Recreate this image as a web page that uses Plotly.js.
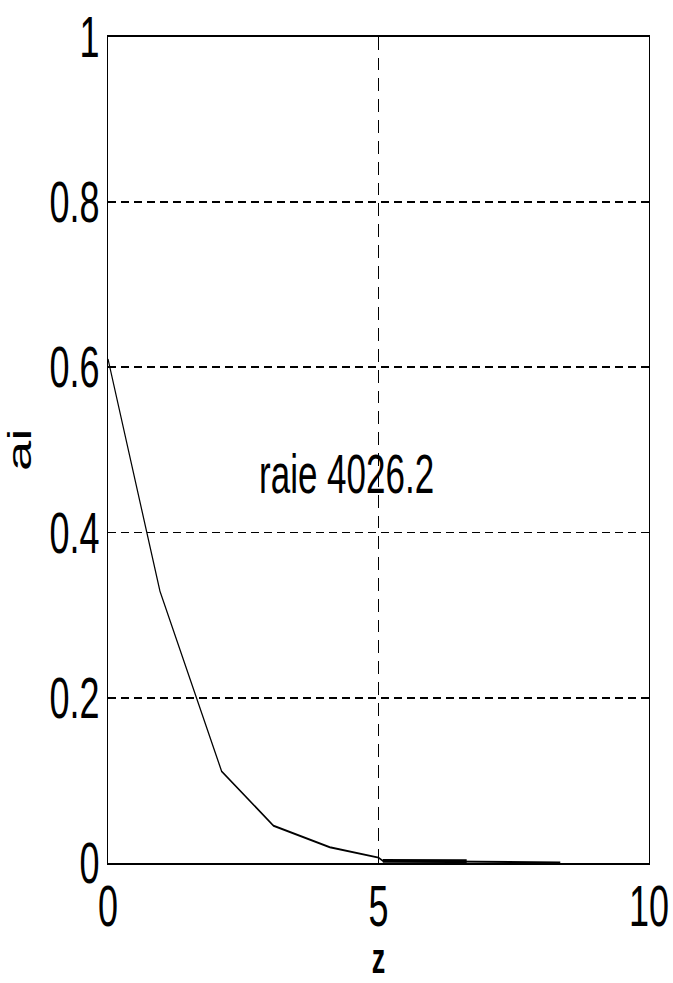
<!DOCTYPE html>
<html>
<head>
<meta charset="utf-8">
<script src="https://cdn.plot.ly/plotly-3.0.1.min.js"></script>
<style>
  html, body { margin: 0; padding: 0; background: #fff; width: 673px; height: 983px; overflow: hidden; }
  /* the figure is laid out at a shorter height, then stretched vertically */
  #fig { width: 673px; height: 614px; transform: scaleY(1.601); transform-origin: 0 0; }
</style>
</head>
<body>
<div id="fig"></div>
<script>
// depth z and line intensity ai for the 4026.2 line
const z  = [0, 0.96, 2.1, 3.06, 4.1, 5.0, 5.08, 6.63, 6.65, 8.36];
const ai = [0.61, 0.329, 0.111, 0.045, 0.019, 0.0065, 0.0025, 0.0022, 0.0008, 0.0006];

const xTicks = [0, 5, 10];
const yTicks = [0, 0.2, 0.4, 0.6, 0.8, 1];
const lineLabel = 'raie 4026.2';
const xLabel = 'z';
const yLabel = 'ai';

const font = 'Liberation Sans, Arial, sans-serif';

const curve = {
  x: z, y: ai, type: 'scatter', mode: 'lines',
  line: { color: '#000', width: 1.2 },
  hoverinfo: 'skip', showlegend: false
};
// the flat stretch just past z = 5 is drawn heavier
const flat = {
  x: z.slice(6, 8), y: ai.slice(6, 8), type: 'scatter', mode: 'lines',
  line: { color: '#000', width: 2.4 },
  hoverinfo: 'skip', showlegend: false
};

const axisCommon = {
  showline: true, linecolor: '#000', linewidth: 1.3, mirror: 'ticks',
  ticks: 'inside', ticklen: 5, tickcolor: '#000', tickwidth: 1,
  showgrid: true, gridcolor: '#000', gridwidth: 1.2, griddash: '8px,5px',
  zeroline: false, tickfont: { family: font, size: 36, color: '#000' },
  fixedrange: true
};

const layout = {
  width: 673, height: 614,
  margin: { l: 108, r: 24, t: 23, b: 75 },
  paper_bgcolor: '#fff', plot_bgcolor: '#fff',
  font: { family: font, color: '#000' },
  xaxis: Object.assign({}, axisCommon, {
    range: [0, 10], tickmode: 'array', tickvals: xTicks, ticklabelstandoff: -5,
    title: { text: xLabel, font: { family: font, size: 27, weight: 'bold', color: '#000' }, standoff: 36 }
  }),
  yaxis: Object.assign({}, axisCommon, {
    range: [0, 1], tickmode: 'array', tickvals: yTicks,
    title: { text: yLabel, font: { family: font, size: 34, color: '#000' }, standoff: 10 }
  }),
  annotations: [{
    x: 2.75, y: 0.472, xref: 'x', yref: 'y', text: lineLabel,
    showarrow: false, xanchor: 'left', yanchor: 'middle',
    font: { family: font, size: 35, color: '#000' }
  }]
};

Plotly.newPlot('fig', [curve, flat], layout, { staticPlot: true, displayModeBar: false });
</script>
</body>
</html>
